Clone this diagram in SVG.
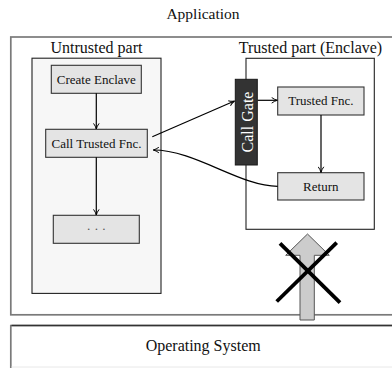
<svg xmlns="http://www.w3.org/2000/svg" width="392" height="368" viewBox="0 0 392 368">
<defs>
<marker id="arr" viewBox="0 0 10 10" refX="9" refY="5" markerWidth="7" markerHeight="7" markerUnits="userSpaceOnUse" orient="auto">
<path d="M1,1 Q5,4 9,5 Q5,6 1,9" fill="none" stroke="#000" stroke-width="1.4"/>
</marker>
<style>
text{font-family:"Liberation Serif","Times New Roman",serif;fill:#111}
.lbl{font-size:16px;text-anchor:middle}
.nt{font-size:13px;text-anchor:middle}
.node{fill:#e4e4e4;stroke:#333;stroke-width:1.1}
.part{stroke:#222;stroke-width:1.1}
.outer{fill:#fff;stroke:#7a7a7a;stroke-width:1.7}
.conn{fill:none;stroke:#000;stroke-width:1.2;marker-end:url(#arr)}
</style>
</defs>
<text class="lbl" x="203" y="18.5" style="font-size:15.5px">Application</text>
<g id="application">
<rect class="outer" x="10.8" y="37" width="390" height="277.8"/>
</g>
<g id="os">
<rect x="10.8" y="325.5" width="390" height="41.5" fill="#fff" stroke="none"/>
<path d="M10.8,368 L10.8,325.5 L392,325.5" fill="none" stroke="#7a7a7a" stroke-width="1.7"/>
<line x1="11.5" y1="325.5" x2="392" y2="325.5" stroke="#333" stroke-width="1.5"/>
<line x1="11.5" y1="367" x2="392" y2="367" stroke="#e8e8e8" stroke-width="1"/>
<text class="lbl" x="203.2" y="351">Operating System</text>
</g>
<g id="untrusted">
<rect class="part" x="32" y="58.2" width="129" height="235.2" fill="#f7f7f7"/>
<text class="lbl" x="96.5" y="53.3">Untrusted part</text>
</g>
<g id="trusted">
<rect class="part" x="246" y="58.3" width="128.3" height="171" fill="#fff"/>
<text class="lbl" x="310.5" y="53.3">Trusted part (Enclave)</text>
</g>
<g id="create">
<rect class="node" x="51.3" y="65.3" width="90" height="28"/>
<text class="nt" x="96.3" y="83.6">Create Enclave</text>
</g>
<g id="call">
<rect class="node" x="45.7" y="129.3" width="101.6" height="28"/>
<text class="nt" x="96.5" y="148">Call Trusted Fnc.</text>
</g>
<g id="dots">
<rect class="node" x="53.3" y="215.3" width="86" height="28"/>
<text class="nt" x="96.3" y="233" style="fill:#555">· · ·</text>
</g>
<g id="gate">
<rect x="235.3" y="79.3" width="22" height="85.7" fill="#333" stroke="#1a1a1a" stroke-width="1"/>
<text class="lbl" transform="translate(252.8,122) rotate(-90)" style="fill:#fff">Call Gate</text>
</g>
<g id="trustedfnc">
<rect class="node" x="277.7" y="87" width="86.3" height="28"/>
<text class="nt" x="320.8" y="105">Trusted Fnc.</text>
</g>
<g id="return">
<rect class="node" x="277.7" y="172.7" width="86.3" height="27.3"/>
<text class="nt" x="320.8" y="190.5">Return</text>
</g>
<g id="connectors">
<line class="conn" x1="96.3" y1="93.3" x2="96.3" y2="129"/>
<line class="conn" x1="96.3" y1="157.3" x2="96.3" y2="215"/>
<line class="conn" x1="152.3" y1="136.7" x2="234.5" y2="101"/>
<line class="conn" x1="257.7" y1="100.3" x2="277.3" y2="100.3"/>
<line class="conn" x1="321" y1="115" x2="321" y2="172.4"/>
<path class="conn" d="M277.7,186.3 C240,186.3 195,150 153.3,150"/>
<path d="M300,320 L300,255.3 L285.7,255.3 L307.5,234 L329.3,255.3 L314.3,255.3 L314.3,320 Z" fill="#cccccc" stroke="#555" stroke-width="1"/>
<line x1="280" y1="243.3" x2="340" y2="302.7" stroke="#000" stroke-width="3.8"/>
<line x1="336.7" y1="242.7" x2="276.7" y2="301.5" stroke="#000" stroke-width="3.8"/>
</g>
</svg>
